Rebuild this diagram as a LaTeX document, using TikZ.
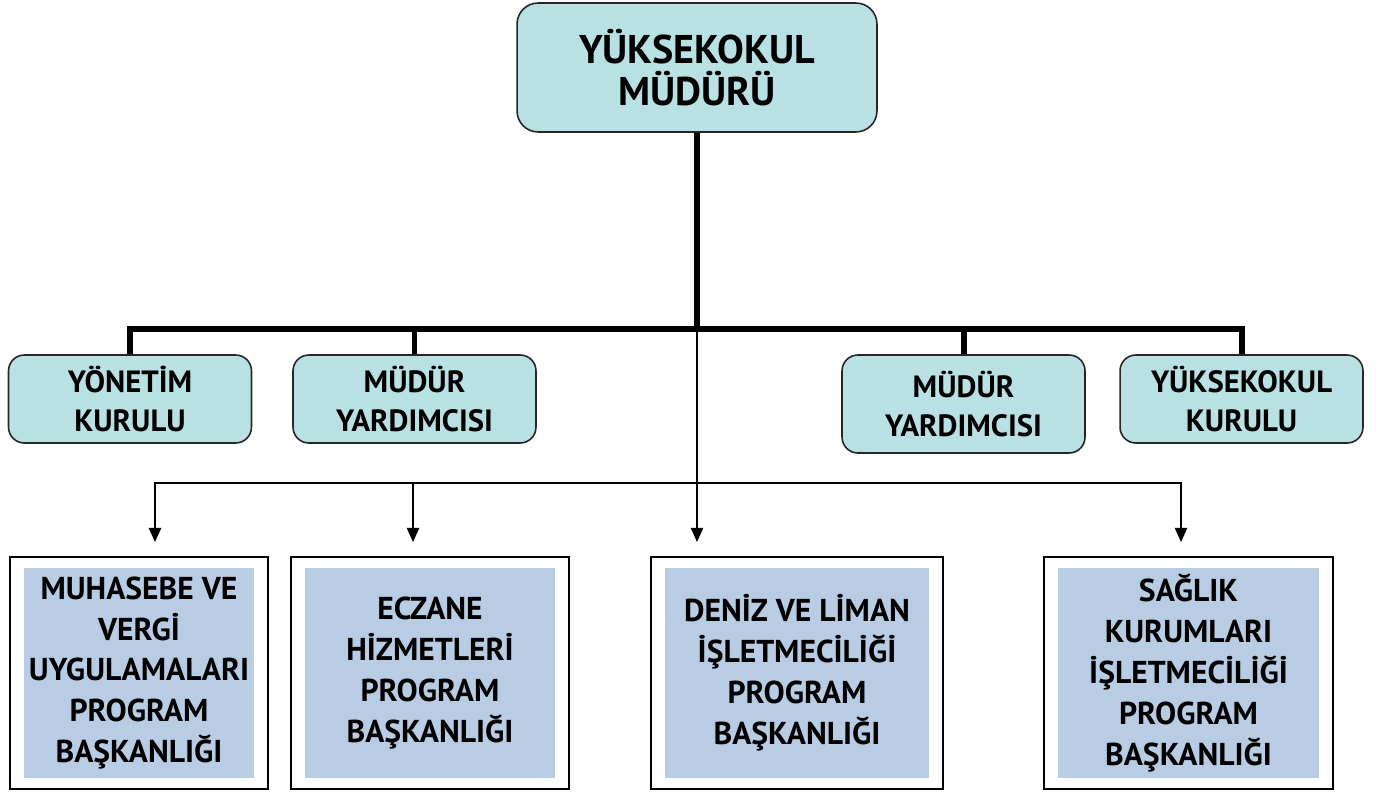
\documentclass[tikz,border=0pt]{standalone}
\usepackage{fontspec}
\setmainfont{PT Sans}
\usetikzlibrary{arrows.meta}
\definecolor{boardfill}{HTML}{B9E0E3}
\definecolor{progfill}{HTML}{B8CCE4}
\begin{document}
\begin{tikzpicture}[x=0.02cm, y=-0.02cm]
\tikzstyle{board} = [rectangle, rounded corners=9pt, draw=black!85, line width=0.9pt, fill=boardfill, align=center, font=\bfseries\fontsize{17.5}{22.5}\selectfont, minimum width=4.86cm, minimum height=1.76cm, inner sep=0pt]
\tikzstyle{head} = [board, rounded corners=12pt, font=\bfseries\fontsize{22.8}{23.5}\selectfont, minimum width=7.2cm, minimum height=2.58cm]
\tikzstyle{prog} = [rectangle, draw=black, line width=0.8pt, fill=white, align=center, font=\bfseries\fontsize{18}{23.3}\selectfont, minimum height=4.64cm, inner sep=0pt, path picture={\fill[progfill] ([shift={(0.27cm,-0.22cm)}]path picture bounding box.north west) rectangle ([shift={(-0.27cm,0.22cm)}]path picture bounding box.south east);}]
\tikzstyle{trunk} = [line width=3.4pt]
\tikzstyle{arrow} = [line width=0.8pt, -{Triangle[width=7pt,length=8pt]}]
\useasboundingbox (0,0) rectangle (1378,791);
%
\node (mudur) [head] at (697,67.5) {YÜKSEKOKUL\\MÜDÜRÜ};
\node (yonetim) [board] at (130,399) {YÖNETİM\\KURULU};
\node (yard1) [board] at (414.5,399) {MÜDÜR\\YARDIMCISI};
\node (yard2) [board, minimum height=1.96cm] at (963.5,404) {MÜDÜR\\YARDIMCISI};
\node (kurul) [board] at (1241.5,399) {YÜKSEKOKUL\\KURULU};
%
\node (muhasebe) [prog, minimum width=5.16cm] at (139,673) {MUHASEBE VE\\VERGİ\\UYGULAMALARI\\PROGRAM\\BAŞKANLIĞI};
\node (eczane) [prog, minimum width=5.56cm] at (430,673) {ECZANE\\HİZMETLERİ\\PROGRAM\\BAŞKANLIĞI};
\node (liman) [prog, minimum width=5.84cm] at (797,673) {DENİZ VE LİMAN\\İŞLETMECİLİĞİ\\PROGRAM\\BAŞKANLIĞI};
\node (saglik) [prog, minimum width=5.78cm] at (1188.5,673) {SAĞLIK\\KURUMLARI\\İŞLETMECİLİĞİ\\PROGRAM\\BAŞKANLIĞI};
%
\coordinate (hub) at (697,329);
\coordinate (split) at (697,483);
\coordinate (tip1) at (155,542);
\coordinate (tip2) at (413,542);
\coordinate (tip3) at (697,542);
\coordinate (tip4) at (1181,542);
%
\draw [trunk] (mudur) -- (hub);
\draw [trunk] (yonetim.north) |- (hub) -| (kurul.north);
\draw [trunk] (hub -| yard1.north) -- (yard1.north);
\draw [trunk] (hub -| yard2.north) -- (yard2.north);
\draw [arrow] (hub) -- (tip3);
\draw [arrow] (split) -| (tip1);
\draw [arrow] (split) -| (tip4);
\draw [arrow] (split -| tip2) -- (tip2);
\end{tikzpicture}
\end{document}
